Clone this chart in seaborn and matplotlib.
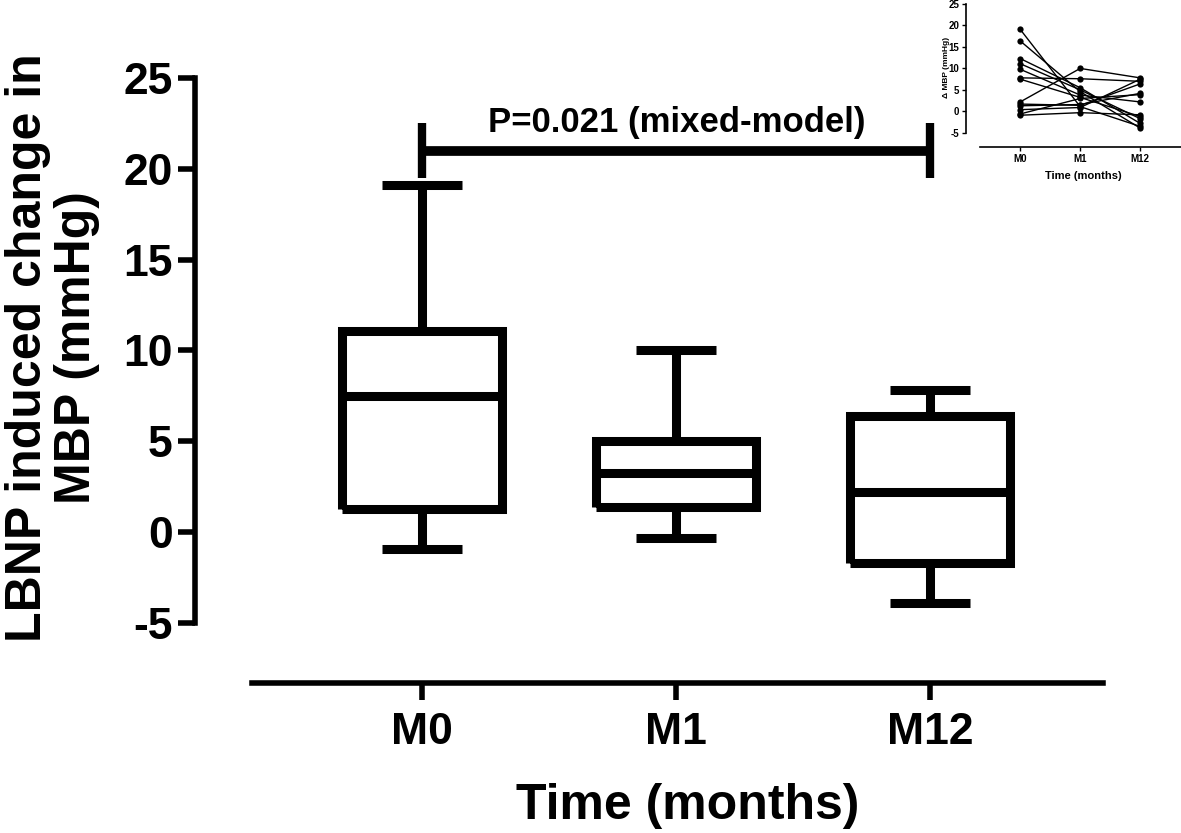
import pandas as pd
import matplotlib
matplotlib.use("Agg")
import matplotlib.pyplot as plt
import seaborn as sns

# per-subject LBNP induced change in MBP (mmHg)
times = ["M0", "M1", "M12"]
subjects = list(range(1, 14))
m0 = [19.1, 16.4, 12.3, 11.1, 9.8, 7.8, 7.5, 2.2, 1.7, 1.3, 0.4, -0.6, -0.9]
m1 = [1.1, 4.6, 5.5, 5.0, 3.8, 7.6, 3.25, 10.0, 1.4, 1.6, 0.9, 3.0, -0.3]
m12 = [-3.5, -3.9, -2.8, -1.7, 2.2, 7.0, -1.2, 7.8, 6.4, 4.2, 7.5, 3.9, -0.8]
y_ticks = [-5, 0, 5, 10, 15, 20, 25]
p_text = "P=0.021 (mixed-model)"

df = pd.DataFrame({
    "subject": subjects * 3,
    "time": ["M0"] * 13 + ["M1"] * 13 + ["M12"] * 13,
    "mbp": m0 + m1 + m12,
})

sns.set_style("ticks")
plt.rcParams["font.family"] = ["Liberation Sans", "DejaVu Sans"]
plt.rcParams["font.weight"] = "bold"
plt.rcParams["text.color"] = "black"
plt.rcParams["axes.labelcolor"] = "black"
plt.rcParams["xtick.color"] = "black"
plt.rcParams["ytick.color"] = "black"
plt.rcParams["axes.unicode_minus"] = False
plt.rcParams["lines.solid_joinstyle"] = "miter"
plt.rcParams["lines.solid_capstyle"] = "butt"

fig = plt.figure(figsize=(11.81, 8.33), dpi=100)
ax = fig.add_axes([0.2134, 0.1801, 0.7206, 0.7263])

sns.boxplot(data=df, x="time", y="mbp", order=times, whis=(0, 100),
            width=0.63, fill=False, color="black", linewidth=6.5, ax=ax)

ax.set_xlim(-0.67, 2.68)
ax.set_ylim(-8.3, 25)
ax.set_yticks(y_ticks)
sns.despine(ax=ax)
ax.spines["left"].set_bounds(-5, 25)
ax.spines["left"].set_position(("outward", 41))
for s in ["left", "bottom"]:
    ax.spines[s].set_linewidth(4)
    ax.spines[s].set_color("black")
ax.tick_params(axis="both", length=12, width=4, colors="black", labelsize=32)
ax.tick_params(axis="x", pad=9)
ax.tick_params(axis="y", pad=4)
for lab in ax.get_xticklabels() + ax.get_yticklabels():
    lab.set_fontweight("bold")

ax.set_xlabel("Time (months)", fontsize=36, fontweight="bold")
ax.xaxis.set_label_coords(0.512, -0.165)
ax.set_ylabel("LBNP induced change in\nMBP (mmHg)", fontsize=36,
              fontweight="bold", linespacing=1.08)
ax.yaxis.set_label_coords(-0.179, 0.555)

# significance bracket
ax.plot([0, 2], [21, 21], color="black", lw=7, clip_on=False)
ax.plot([0, 0], [19.5, 22.5], color="black", lw=6, clip_on=False)
ax.plot([2, 2], [19.5, 22.5], color="black", lw=6, clip_on=False)
ax.text(1, 22.0, p_text, ha="center", va="baseline", fontsize=25,
        fontweight="bold")

# inset: individual trajectories
ins = fig.add_axes([0.8298, 0.8235, 0.1702, 0.1717])
sns.lineplot(data=df, x="time", y="mbp", units="subject", estimator=None,
             color="black", marker="o", markersize=4.5, markeredgewidth=0,
             linewidth=1.0, ax=ins)
ins.set_xlim(-0.67, 2.68)
ins.set_ylim(-8.3, 25)
ins.set_yticks(y_ticks)
sns.despine(ax=ins)
ins.spines["left"].set_bounds(-5, 25)
ins.spines["left"].set_position(("outward", 10))
for s in ["left", "bottom"]:
    ins.spines[s].set_linewidth(1.2)
    ins.spines[s].set_color("black")
ins.tick_params(axis="both", length=3, width=1, colors="black", labelsize=7,
                pad=2)
for lab in ins.get_xticklabels() + ins.get_yticklabels():
    lab.set_fontweight("bold")
ins.set_xlabel("Time (months)", fontsize=8, fontweight="bold")
ins.xaxis.set_label_coords(0.512, -0.17)
ins.set_ylabel("\u0394 MBP (mmHg)", fontsize=6, fontweight="bold")
ins.yaxis.set_label_coords(-0.15, 0.555)

fig.savefig("out.png", dpi=100, facecolor="white")
